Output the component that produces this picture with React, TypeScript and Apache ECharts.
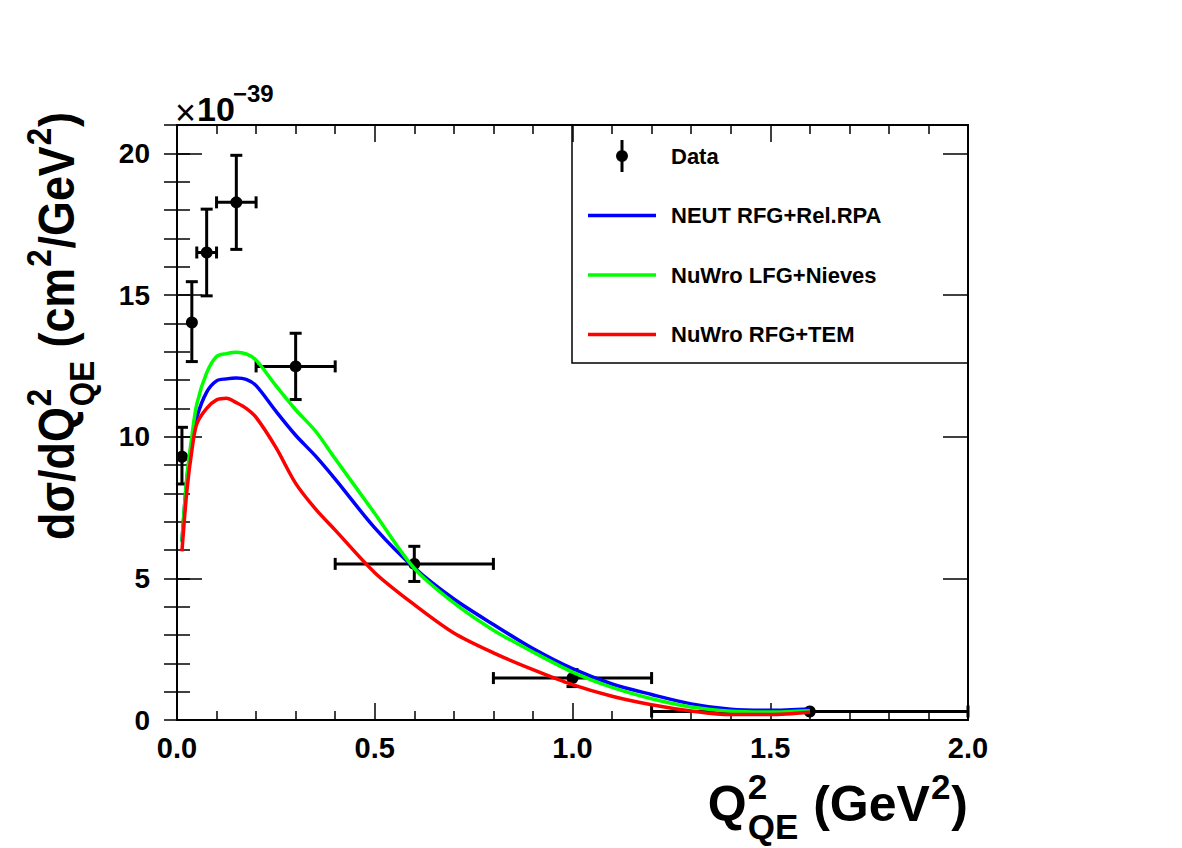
import React, { useEffect, useRef } from "react";
import * as echarts from "echarts";

// Measured cross section in units of 1e-39 cm^2/GeV^2: bin centres, bin half-widths, values, errors
const dataQ2 = [0.0125, 0.0375, 0.075, 0.15, 0.3, 0.6, 1.0, 1.6];
const dataQ2HalfWidth = [0.0125, 0.0125, 0.025, 0.05, 0.1, 0.2, 0.2, 0.4];
const dataXsec = [9.33, 14.06, 16.5, 18.27, 12.48, 5.51, 1.48, 0.3];
const dataXsecErr = [1.0, 1.41, 1.53, 1.66, 1.17, 0.62, 0.3, 0.08];

// Model predictions sampled along Q^2_QE
const modelQ2 = [
  0.0125, 0.025, 0.0375, 0.05, 0.075, 0.1, 0.125, 0.15, 0.175, 0.2, 0.25, 0.3, 0.35,
  0.4, 0.5, 0.6, 0.7, 0.8, 0.9, 1.0, 1.1, 1.2, 1.3, 1.4, 1.5, 1.6,
];
const neutRfgRelRpa = [
  6.3, 8.5, 9.8, 10.68, 11.57, 11.97, 12.04, 12.07, 12.02, 11.8, 10.9, 10.05, 9.32,
  8.5, 6.78, 5.37, 4.27, 3.37, 2.52, 1.81, 1.27, 0.9, 0.57, 0.38, 0.34, 0.39,
];
const nuwroLfgNieves = [
  6.3, 8.6, 10.0, 11.15, 12.25, 12.83, 12.93, 12.98, 12.92, 12.7, 11.8, 10.95, 10.2,
  9.22, 7.29, 5.35, 4.13, 3.17, 2.4, 1.69, 1.15, 0.75, 0.46, 0.31, 0.28, 0.33,
];
const nuwroRfgTem = [
  5.95, 8.09, 9.5, 10.45, 11.0, 11.3, 11.36, 11.2, 11.0, 10.68, 9.62, 8.35, 7.45,
  6.7, 5.2, 4.07, 3.07, 2.37, 1.78, 1.25, 0.84, 0.54, 0.32, 0.19, 0.19, 0.27,
];

const seriesNames = ["Data", "NEUT RFG+Rel.RPA", "NuWro LFG+Nieves", "NuWro RFG+TEM"];
const seriesColors = ["#000000", "#0000ff", "#00ff00", "#ff0000"];

const FONT = '"Liberation Sans", Arial, Helvetica, sans-serif';

// Legend glyphs: a point with a vertical error bar, and a plain line segment
const DATA_ICON = "path://M3.5,0H6.5V11H3.5Z M3.5,21H6.5V32H3.5Z M5,10A6,6 0 1,1 5,22A6,6 0 1,1 5,10Z";
const LINE_ICON = "path://M0,0H68V3.5H0Z";

type Segment = { main?: string; sup?: string; sub?: string };

// Lays out a title with superscripts/subscripts; returns children and total length
function layoutTitle(segments: Segment[], size: number, subShift = 0.5) {
  const ctx = document.createElement("canvas").getContext("2d")!;
  const small = Math.round(size * 0.7);
  const mainFont = `bold ${size}px ${FONT}`;
  const smallFont = `bold ${small}px ${FONT}`;
  const measure = (t: string, f: string) => {
    ctx.font = f;
    return ctx.measureText(t).width;
  };
  const children: any[] = [];
  let x = 0;
  const text = (t: string, f: string, lx: number, ly: number) => ({
    type: "text",
    x: lx,
    y: ly,
    style: { text: t, font: f, fill: "#000", align: "left", verticalAlign: "middle" },
  });
  for (const seg of segments) {
    if (seg.main) {
      children.push(text(seg.main, mainFont, x, 0));
      x += measure(seg.main, mainFont);
    } else {
      let w = 0;
      if (seg.sup) {
        children.push(text(seg.sup, smallFont, x + 1, -size * 0.36));
        w = Math.max(w, measure(seg.sup, smallFont));
      }
      if (seg.sub) {
        children.push(text(seg.sub, smallFont, x + 1, size * subShift));
        w = Math.max(w, measure(seg.sub, smallFont));
      }
      x += w + 2;
    }
  }
  return { children, width: x };
}

function errorBarItem(params: any, api: any) {
  const x = api.value(0);
  const y = api.value(1);
  const ex = api.value(2);
  const ey = api.value(3);
  const c = api.coord([x, y]);
  const l = api.coord([x - ex, y]);
  const r = api.coord([x + ex, y]);
  const t = api.coord([x, y + ey]);
  const b = api.coord([x, y - ey]);
  const R = 6;
  const cap = 6;
  const style = { stroke: "#000", lineWidth: 3 };
  const children: any[] = [];
  if (r[0] - c[0] > R + 1) {
    children.push({ type: "line", shape: { x1: l[0], y1: c[1], x2: r[0], y2: c[1] }, style });
    children.push({ type: "line", shape: { x1: l[0], y1: c[1] - cap, x2: l[0], y2: c[1] + cap }, style });
    children.push({ type: "line", shape: { x1: r[0], y1: c[1] - cap, x2: r[0], y2: c[1] + cap }, style });
  }
  if (b[1] - c[1] > R + 1) {
    children.push({ type: "line", shape: { x1: c[0], y1: t[1], x2: c[0], y2: b[1] }, style });
    children.push({ type: "line", shape: { x1: c[0] - cap, y1: t[1], x2: c[0] + cap, y2: t[1] }, style });
    children.push({ type: "line", shape: { x1: c[0] - cap, y1: b[1], x2: c[0] + cap, y2: b[1] }, style });
  }
  children.push({ type: "circle", shape: { cx: c[0], cy: c[1], r: R }, style: { fill: "#000", stroke: "none" } });
  return { type: "group", children };
}

export default function App() {
  const ref = useRef<HTMLDivElement>(null);

  useEffect(() => {
    const chart = echarts.init(ref.current!, null, { renderer: "svg" });

    const axisLine = { show: true, onZero: false, lineStyle: { color: "#000", width: 2 } };
    const tickStyle = { color: "#000", width: 1.5 };

    const xBase = {
      type: "value",
      min: 0,
      max: 2,
      interval: 0.5,
      axisLine,
      splitLine: { show: false },
      axisTick: { show: true, inside: true, length: 17, lineStyle: tickStyle },
      minorTick: { show: true, splitNumber: 5, length: 9, lineStyle: tickStyle },
    };
    const yMajor = {
      type: "value",
      min: 0,
      max: 21,
      interval: 5,
      axisLine,
      splitLine: { show: false },
      axisTick: { show: true, inside: true, length: 25, lineStyle: tickStyle },
    };
    const yMinor = {
      type: "value",
      min: 0,
      max: 21,
      interval: 1,
      axisLine: { show: false },
      splitLine: { show: false },
      axisLabel: { show: false },
      axisTick: { show: true, inside: true, length: 13, lineStyle: tickStyle },
    };

    const yTitle = layoutTitle(
      [{ main: "d\u03c3/dQ" }, { sup: "2", sub: "QE" }, { main: " (cm" }, { sup: "2" }, { main: "/GeV" }, { sup: "2" }, { main: ")" }],
      50
    );
    const xTitle = layoutTitle(
      [{ main: "Q" }, { sup: "2", sub: "QE" }, { main: " (GeV" }, { sup: "2" }, { main: ")" }],
      50,
      0.44
    );
    const yTitleScale = 428 / yTitle.width;

    const option: any = {
      animation: false,
      backgroundColor: "#fff",
      grid: { left: 177, top: 125, right: 214, bottom: 128, containLabel: false, outerBoundsMode: "none" },
      xAxis: [
        {
          ...xBase,
          position: "bottom",
          axisLabel: {
            show: true,
            color: "#000",
            fontFamily: FONT,
            fontWeight: "bold",
            fontSize: 29,
            margin: 13,
            formatter: (v: number) => v.toFixed(1),
          },
        },
        { ...xBase, position: "top", axisLabel: { show: false } },
      ],
      yAxis: [
        {
          ...yMajor,
          position: "left",
          axisLabel: {
            show: true,
            color: "#000",
            fontFamily: FONT,
            fontWeight: "bold",
            fontSize: 28,
            margin: 27,
            showMaxLabel: false,
            formatter: (v: number) => (v % 5 === 0 ? String(v) : ""),
          },
        },
        { ...yMinor, position: "left" },
        { ...yMajor, position: "right", axisLabel: { show: false } },
        { ...yMinor, position: "right" },
      ],
      legend: {
        orient: "vertical",
        left: 588,
        top: 140,
        padding: 0,
        itemWidth: 68,
        itemHeight: 32,
        itemGap: 27.5,
        selectedMode: false,
        symbolKeepAspect: true,
        textStyle: {
          color: "#000",
          fontFamily: FONT,
          fontWeight: "bold",
          fontSize: 22,
          lineHeight: 32,
          padding: [0, 0, 0, 10],
        },
        data: [
          { name: seriesNames[0], icon: DATA_ICON },
          { name: seriesNames[1], icon: LINE_ICON },
          { name: seriesNames[2], icon: LINE_ICON },
          { name: seriesNames[3], icon: LINE_ICON },
        ],
      },
      graphic: [
        {
          type: "rect",
          shape: { x: 572, y: 125, width: 396, height: 238 },
          style: { fill: "none", stroke: "#000", lineWidth: 1.5 },
          z: 1,
        },
        { type: "text", x: 175, y: 112, style: { text: "\u00d7", font: `36px ${FONT}`, fill: "#000", align: "left", verticalAlign: "middle" } },
        { type: "text", x: 197, y: 109, style: { text: "10", font: `bold 34px ${FONT}`, fill: "#000", align: "left", verticalAlign: "middle" } },
        { type: "text", x: 233, y: 93, style: { text: "\u221239", font: `bold 24px ${FONT}`, fill: "#000", align: "left", verticalAlign: "middle" } },
        { type: "group", x: 968 - xTitle.width, y: 804, children: xTitle.children },
        {
          type: "group",
          x: 57,
          y: 540,
          rotation: Math.PI / 2,
          scaleX: yTitleScale,
          children: yTitle.children,
        },
      ],
      series: [
        {
          name: seriesNames[0],
          type: "custom",
          coordinateSystem: "cartesian2d",
          xAxisIndex: 0,
          yAxisIndex: 0,
          itemStyle: { color: seriesColors[0] },
          encode: { x: 0, y: 1 },
          renderItem: errorBarItem,
          data: dataQ2.map((q, i) => [q, dataXsec[i], dataQ2HalfWidth[i], dataXsecErr[i]]),
          clip: false,
        },
        ...[neutRfgRelRpa, nuwroLfgNieves, nuwroRfgTem].map((vals, k) => ({
          name: seriesNames[k + 1],
          type: "line",
          xAxisIndex: 0,
          yAxisIndex: 0,
          symbol: "none",
          smooth: 0.3,
          color: seriesColors[k + 1],
          itemStyle: { color: seriesColors[k + 1] },
          lineStyle: { color: seriesColors[k + 1], width: 3.5 },
          data: modelQ2.map((q, i) => [q, vals[i]]),
        })),
      ],
    };

    chart.setOption(option);
    return () => chart.dispose();
  }, []);

  return (
    <div
      ref={ref}
      style={{ position: "fixed", left: 0, top: 0, width: 1182, height: 848, background: "#fff" }}
    />
  );
}
